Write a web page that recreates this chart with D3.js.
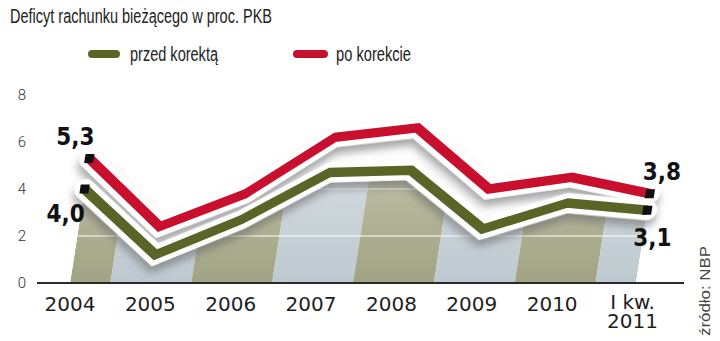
<!DOCTYPE html>
<html>
<head>
<meta charset="utf-8">
<script src="https://cdnjs.cloudflare.com/ajax/libs/d3/7.8.5/d3.min.js"></script>
<style>
  body { margin: 0; background: #fff; }
  svg { display: block; }
</style>
</head>
<body>
<div id="canvas"></div>
<script>
const years = ["2004", "2005", "2006", "2007", "2008", "2009", "2010", "2011"];
const yearLabels = [["2004"], ["2005"], ["2006"], ["2007"], ["2008"], ["2009"], ["2010"], ["I kw.", "2011"]];
const przed = [4.0, 1.2, 2.7, 4.7, 4.8, 2.3, 3.4, 3.1];
const po = [5.3, 2.4, 3.8, 6.2, 6.6, 4.0, 4.5, 3.8];
const yTicks = [0, 2, 4, 6, 8];
const seriesNames = ["przed korektą", "po korekcie"];

const width = 720;
const height = 341;
const green = "#5b6427";
const red = "#c8102e";
const slant = 0.155;

const svg = d3.select("#canvas").append("svg")
    .attr("width", width)
    .attr("height", height);

const x = d3.scalePoint().domain(years).range([70, 636]);
const y = d3.scaleLinear().domain([0, 8]).range([283, 95]);
const step = x.step();

const defs = svg.append("defs");
const f = defs.append("filter").attr("id", "sh")
    .attr("x", "-10%").attr("y", "-40%").attr("width", "120%").attr("height", "200%");
f.append("feGaussianBlur").attr("in", "SourceAlpha").attr("stdDeviation", 4);
f.append("feOffset").attr("dy", 7).attr("result", "b");
f.append("feFlood").attr("flood-color", "#6a6a6a").attr("flood-opacity", 0.6);
f.append("feComposite").attr("in2", "b").attr("operator", "in");
const m = f.append("feMerge");
m.append("feMergeNode");
m.append("feMergeNode").attr("in", "SourceGraphic");

function grad(id, c0, c1) {
  const g = defs.append("linearGradient").attr("id", id)
      .attr("gradientUnits", "userSpaceOnUse")
      .attr("x1", 0).attr("x2", 0).attr("y1", y(0)).attr("y2", y(6));
  g.append("stop").attr("offset", 0).attr("stop-color", c0);
  g.append("stop").attr("offset", 1).attr("stop-color", c1);
}
grad("olive", "#a2a383", "#c4c5ad");
grad("blue", "#bdc9d0", "#d8dfe2");

const lineGen = d3.line().x((d, i) => x(years[i])).y(d => y(d));
const areaGen = d3.area().x((d, i) => x(years[i])).y0(y(0)).y1(d => y(d));

defs.append("clipPath").attr("id", "under")
  .append("path").attr("d", areaGen(przed));

// slanted drawing plane
const plot = svg.append("g")
    .attr("transform", `translate(0,${y(0)}) matrix(1,0,${-slant},1,0,0) translate(0,${-y(0)})`);

const bands = plot.append("g").attr("clip-path", "url(#under)");
bands.selectAll("rect").data(years).enter().append("rect")
    .attr("x", (d, i) => i === 0 ? x(d) : x(d) - step / 2)
    .attr("width", (d, i) => (i === 0 || i === years.length - 1) ? step / 2 : step)
    .attr("y", y(8))
    .attr("height", y(0) - y(8))
    .attr("fill", (d, i) => i % 2 === 0 ? "url(#olive)" : "url(#blue)");
bands.selectAll("line").data(yTicks.slice(1)).enter().append("line")
    .attr("x1", x.range()[0]).attr("x2", x.range()[1])
    .attr("y1", d => y(d)).attr("y2", d => y(d))
    .attr("stroke", "#fff").attr("stroke-width", 1.2);

function drawSeries(vals, color) {
  plot.append("path").attr("d", lineGen(vals))
      .attr("fill", "none").attr("stroke", "#fff")
      .attr("stroke-width", 20).attr("stroke-linecap", "round")
      .attr("stroke-linejoin", "miter")
      .attr("filter", "url(#sh)");
  plot.append("path").attr("d", lineGen(vals))
      .attr("fill", "none").attr("stroke", color)
      .attr("stroke-width", 9.5).attr("stroke-linejoin", "miter");
  [0, vals.length - 1].forEach(i => {
    plot.append("rect")
        .attr("x", x(years[i]) - 4.5).attr("y", y(vals[i]) - 4.5)
        .attr("width", 9).attr("height", 9)
        .attr("fill", "#111");
  });
}
drawSeries(po, red);
drawSeries(przed, green);

// baseline
svg.append("line")
    .attr("x1", x.range()[0] - 33).attr("x2", x.range()[1] + 48)
    .attr("y1", y(0)).attr("y2", y(0))
    .attr("stroke", "#2a2a2a").attr("stroke-width", 2);

// y axis
const yAxis = svg.append("g")
    .attr("transform", "translate(22,0)")
    .call(d3.axisLeft(y).tickValues(yTicks).tickSize(0).tickPadding(0));
yAxis.select(".domain").remove();
yAxis.selectAll("text")
    .attr("text-anchor", "middle")
    .attr("font-family", "Roboto, sans-serif")
    .attr("font-weight", 300)
    .attr("font-size", 15)
    .attr("fill", "#333");

// x labels
const xl = svg.append("g").selectAll("text").data(yearLabels).enter().append("text")
    .attr("x", (d, i) => x(years[i]) - i * 0.5)
    .attr("y", d => d.length > 1 ? 309 : 311)
    .attr("text-anchor", "middle")
    .attr("font-family", "DejaVu Sans, sans-serif")
    .attr("font-size", 20)
    .attr("fill", "#1e1e1e");
xl.each(function(d) {
  const t = d3.select(this);
  d.forEach((s, k) => {
    t.append("tspan").attr("x", t.attr("x")).attr("dy", k === 0 ? 0 : 19).text(s);
  });
});

// value labels at line ends
function endPos(vals, i) {
  return [x(years[i]) + slant * (y(0) - y(vals[i])), y(vals[i])];
}
const fmt = v => d3.format(".1f")(v).replace(".", ",");
const valueLabels = [
  {vals: po, i: 0, dx: -14, dy: -13},
  {vals: przed, i: 0, dx: -19, dy: 33},
  {vals: po, i: 7, dx: 12, dy: -14},
  {vals: przed, i: 7, dx: 5, dy: 36}
];
svg.append("g").selectAll("text").data(valueLabels).enter().append("text")
    .attr("x", d => endPos(d.vals, d.i)[0] + d.dx)
    .attr("y", d => endPos(d.vals, d.i)[1] + d.dy)
    .attr("text-anchor", "middle")
    .attr("font-family", "DejaVu Sans Condensed, DejaVu Sans, sans-serif")
    .attr("font-weight", "bold")
    .attr("font-size", 24)
    .attr("fill", "#111")
    .text(d => fmt(d.vals[d.i]));

// title
svg.append("text")
    .attr("x", 10).attr("y", 23)
    .attr("font-family", "Liberation Sans Narrow, sans-serif")
    .attr("font-size", 20)
    .attr("fill", "#222")
    .attr("textLength", 262).attr("lengthAdjust", "spacingAndGlyphs")
    .text("Deficyt rachunku bieżącego w proc. PKB");

// legend
const legend = [
  {name: seriesNames[0], color: green, sx: 88, sw: 32, tx: 130, tw: 88},
  {name: seriesNames[1], color: red, sx: 293, sw: 35, tx: 336, tw: 75}
];
const lg = svg.append("g").selectAll("g").data(legend).enter().append("g");
lg.append("rect")
    .attr("x", d => d.sx).attr("y", 50)
    .attr("width", d => d.sw).attr("height", 8)
    .attr("rx", 4)
    .attr("fill", d => d.color);
lg.append("text")
    .attr("x", d => d.tx).attr("y", 61)
    .attr("font-family", "Liberation Sans Narrow, sans-serif")
    .attr("font-size", 20)
    .attr("fill", "#222")
    .attr("textLength", d => d.tw).attr("lengthAdjust", "spacingAndGlyphs")
    .text(d => d.name);

// source
svg.append("text")
    .attr("transform", "translate(710,336) rotate(-90)")
    .attr("font-family", "Liberation Sans, sans-serif")
    .attr("font-size", 14)
    .attr("fill", "#444")
    .attr("textLength", 90).attr("lengthAdjust", "spacingAndGlyphs")
    .text("źródło: NBP");
</script>
</body>
</html>
